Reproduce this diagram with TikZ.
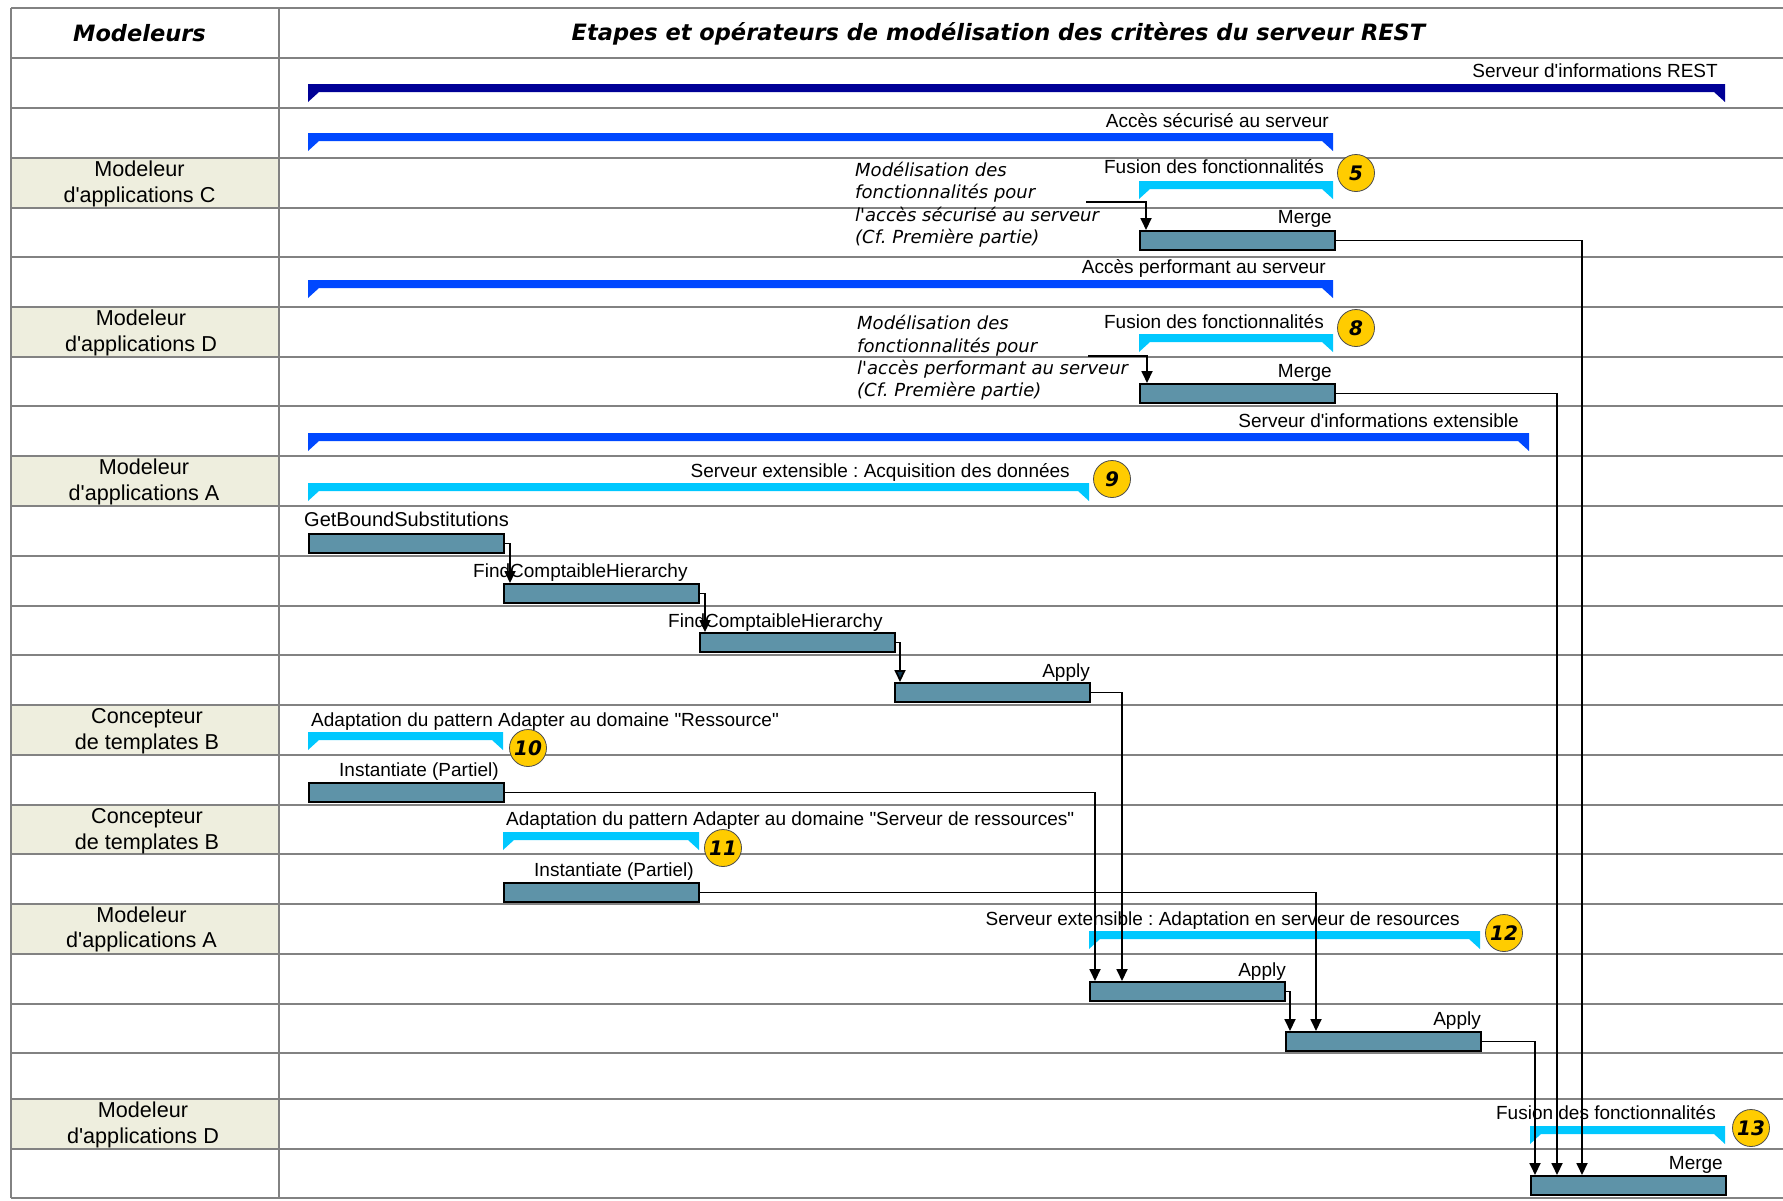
\documentclass[tikz,border=0pt]{standalone}
\usepackage{fontspec}
\setmainfont{Liberation Sans}[Ligatures=TeXOff]
\newfontfamily\dejavu{DejaVu Sans}[Ligatures=TeXOff]
\usetikzlibrary{arrows.meta}
\definecolor{navybar}{RGB}{0,0,150}
\definecolor{bluebar}{RGB}{0,72,255}
\definecolor{cyanbar}{RGB}{0,200,255}
\definecolor{boxfill}{RGB}{94,147,168}
\definecolor{cellfill}{RGB}{238,238,222}
\definecolor{gridgray}{RGB}{130,130,130}
\definecolor{goldnum}{RGB}{255,204,0}
\definecolor{darktip}{RGB}{15,55,80}
\newcommand{\summarybar}[4]{%
  \fill[#1] (#2,#4) -- (#3,#4) -- (#3,#4+18) -- (#3-11,#4+8) -- (#2+11,#4+8) -- (#2,#4+18) -- cycle;}
\frenchspacing
\begin{document}
\begin{tikzpicture}[x=1pt,y=-1pt,
  taskbox/.style={draw=black, line width=2pt, fill=boxfill, inner sep=0pt, minimum height=19pt, minimum width=195pt, anchor=north west},
  conn/.style={draw=black, line width=1.8pt, -{Triangle[length=12pt,width=11pt]}},
  lbl/.style={inner sep=0pt, font=\fontsize{19}{23}\selectfont},
  role/.style={inner sep=0pt, font=\fontsize{21.6}{26}\selectfont, anchor=base},
  note/.style={inner sep=0pt, font=\dejavu\itshape\fontsize{18}{22.4}\selectfont, anchor=base west},
  num/.style={circle, draw=black!70, line width=0.8pt, fill=goldnum, minimum size=37pt, inner sep=0pt, font=\dejavu\bfseries\itshape\fontsize{20}{24}\selectfont},
  head/.style={inner sep=0pt, font=\dejavu\bfseries\itshape\fontsize{22.5}{26}\selectfont, anchor=base},
  grid/.style={draw=gridgray, line width=2pt}
]
\useasboundingbox (0,0) rectangle (1783,1200);
\fill[white] (0,0) rectangle (1783,1200);
% shaded role cells
\foreach \t/\b in {158/208, 307/357, 456/506, 705/755, 805/854, 904/954, 1099/1149}
  \fill[cellfill] (11,\t) rectangle (279,\b);
% grid
\foreach \y in {8,58,108,158,208,257,307,357,406,456,506,556,606,655,705,755,805,854,904,954,1004,1053,1099,1149,1198}
  \draw[grid] (11,\y) -- (1783,\y);
\draw[grid] (11,8) -- (11,1198);
\draw[grid] (279,8) -- (279,1198);
% headers
\node[head] (h1) at (139.5,41) {Modeleurs};
\node[head] (h2) at (998.5,40) {Etapes et opérateurs de modélisation des critères du serveur REST};
% role labels
\node[role] (rC1) at (139.5,176) {Modeleur};
\node[role] (rC2) at (139.5,202) {d'applications C};
\node[role] (rD1) at (141,325) {Modeleur};
\node[role] (rD2) at (141,351) {d'applications D};
\node[role] (rA1) at (144,474) {Modeleur};
\node[role] (rA2) at (144,500) {d'applications A};
\node[role] (rT1) at (147,723) {Concepteur};
\node[role] (rT2) at (147,749) {de templates B};
\node[role] (rU1) at (147,823) {Concepteur};
\node[role] (rU2) at (147,849) {de templates B};
\node[role] (rE1) at (141.5,922) {Modeleur};
\node[role] (rE2) at (141.5,947) {d'applications A};
\node[role] (rF1) at (143,1117) {Modeleur};
\node[role] (rF2) at (143,1143) {d'applications D};
% summary bars
\summarybar{navybar}{308}{1725}{84}
\summarybar{bluebar}{308}{1333}{133}
\summarybar{cyanbar}{1139}{1333}{181}
\summarybar{bluebar}{308}{1333}{280}
\summarybar{cyanbar}{1139}{1333}{334}
\summarybar{bluebar}{308}{1529}{433}
\summarybar{cyanbar}{308}{1089}{483}
\summarybar{cyanbar}{308}{503}{732}
\summarybar{cyanbar}{503}{699}{832}
\summarybar{cyanbar}{1089}{1480}{931}
\summarybar{cyanbar}{1530}{1725}{1126}
% task boxes
\node[taskbox] (m5) at (1139,230) {};
\node[taskbox] (m8) at (1139,383) {};
\node[taskbox] (gb) at (308,533) {};
\node[taskbox] (fc1) at (503,583) {};
\node[taskbox] (fc2) at (699,632) {};
\node[taskbox] (ap) at (894,682) {};
\node[taskbox] (i1) at (308,782) {};
\node[taskbox] (i2) at (503,882) {};
\node[taskbox] (a1) at (1089,981) {};
\node[taskbox] (a2) at (1285,1031) {};
\node[taskbox] (fm) at (1530,1175) {};
% labels
\node[lbl, anchor=base east] (t1) at (1718,77) {Serveur d'informations REST};
\node[lbl, anchor=base east] (t2) at (1329,127) {Accès sécurisé au serveur};
\node[lbl, anchor=base east] (t3) at (1324,173) {Fusion des fonctionnalités};
\node[lbl, anchor=base east] (t4) at (1332,223) {Merge};
\node[lbl, anchor=base east] (t5) at (1326,273) {Accès performant au serveur};
\node[lbl, anchor=base east] (t6) at (1324,328) {Fusion des fonctionnalités};
\node[lbl, anchor=base east] (t7) at (1332,377) {Merge};
\node[lbl, anchor=base east] (t8) at (1519,427) {Serveur d'informations extensible};
\node[lbl, anchor=base east] (t9) at (1070,477) {Serveur extensible : Acquisition des données};
\node[lbl, anchor=base west, font=\fontsize{20}{24}\selectfont] (t10) at (304,526) {GetBoundSubstitutions};
\node[lbl, anchor=base west] (t11) at (473,577) {FindComptaibleHierarchy};
\node[lbl, anchor=base west] (t12) at (668,627) {FindComptaibleHierarchy};
\node[lbl, anchor=base east] (t13) at (1090,677) {Apply};
\node[lbl, anchor=base west] (t14) at (311,726) {Adaptation du pattern Adapter au domaine "Ressource"};
\node[lbl, anchor=base west] (t15) at (339,776) {Instantiate (Partiel)};
\node[lbl, anchor=base west] (t16) at (506,825) {Adaptation du pattern Adapter au domaine "Serveur de ressources"};
\node[lbl, anchor=base west] (t17) at (534,876) {Instantiate (Partiel)};
\node[lbl, anchor=base east] (t18) at (1460,925) {Serveur extensible : Adaptation en serveur de resources};
\node[lbl, anchor=base east] (t19) at (1286,976) {Apply};
\node[lbl, anchor=base east] (t20) at (1481,1025) {Apply};
\node[lbl, anchor=base east] (t22) at (1716,1119) {Fusion des fonctionnalités};
\node[lbl, anchor=base east] (t23) at (1723,1169) {Merge};
% notes
\node[note] (na1) at (855,176) {Modélisation des};
\node[note] (na2) at (855,198.5) {fonctionnalités pour};
\node[note] (na3) at (855,221) {l'accès sécurisé au serveur};
\node[note] (na4) at (855,243) {(Cf. Première partie)};
\node[note] (nb1) at (857,329.5) {Modélisation des};
\node[note] (nb2) at (857,352) {fonctionnalités pour};
\node[note] (nb3) at (857,374) {l'accès performant au serveur};
\node[note] (nb4) at (857,396) {(Cf. Première partie)};
% step numbers
\node[num] (n5) at (1356,173) {5};
\node[num] (n8) at (1356,328) {8};
\node[num] (n9) at (1112,479) {9};
\node[num] (n10) at (528,748) {10};
\node[num] (n11) at (723,848) {11};
\node[num] (n12) at (1504,933) {12};
\node[num] (n13) at (1751,1128) {13};
% connectors
\coordinate (s5) at (1086,202);
\coordinate (s8) at (1088,356);
\draw[conn] (s5) -| ([xshift=7pt]m5.north west);
\draw[conn] (s8) -| ([xshift=8pt]m8.north west);
\draw[conn] (gb.east) -| ([xshift=7pt]fc1.north west);
\draw[conn] (fc1.east) -| ([xshift=6pt]fc2.north west);
\draw[conn, -{Triangle[length=12pt,width=11pt,fill=darktip]}] (fc2.east) -| ([xshift=6pt]ap.north west);
\draw[conn] (i1.east) -| ([xshift=6pt]a1.north west);
\draw[conn] (ap.east) -| ([xshift=33pt]a1.north west);
\draw[conn] (a1.east) -| ([xshift=5pt]a2.north west);
\draw[conn] (i2.east) -| ([xshift=31pt]a2.north west);
\draw[conn] (a2.east) -| ([xshift=5pt]fm.north west);
\draw[conn] (m8.east) -| ([xshift=27pt]fm.north west);
\draw[conn] (m5.east) -| ([xshift=52pt]fm.north west);
\end{tikzpicture}
\end{document}
